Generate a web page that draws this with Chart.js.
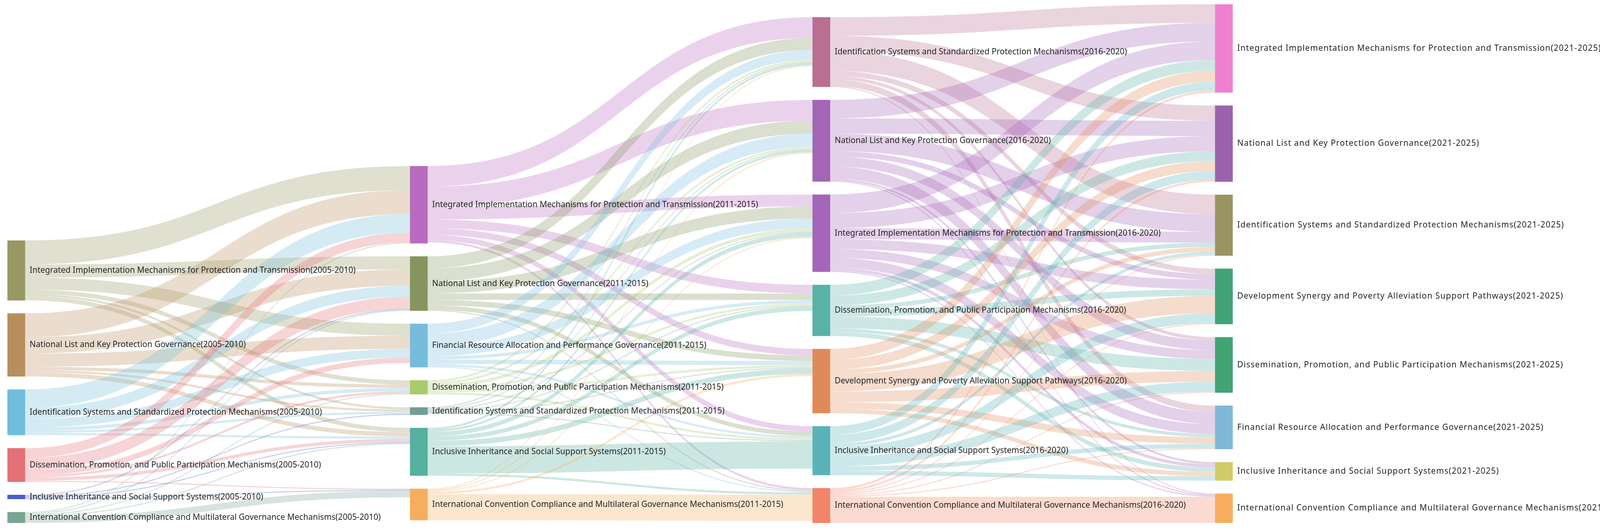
<!DOCTYPE html>
<html>
<head>
<meta charset="utf-8">
<script src="https://cdn.jsdelivr.net/npm/chart.js@4.4.1/dist/chart.umd.min.js"></script>
<style>
  html, body { margin: 0; padding: 0; background: #fff; overflow: hidden; }
  #wrap { width: 100vw; height: 100vh; }
</style>
</head>
<body>
<div id="wrap"><canvas id="chart"></canvas></div>
<script>
// ===== DATA =====
const periods = ["2005-2010", "2011-2015", "2016-2020", "2021-2025"];

const nodes2005 = [
  "Integrated Implementation Mechanisms for Protection and Transmission",
  "National List and Key Protection Governance",
  "Identification Systems and Standardized Protection Mechanisms",
  "Dissemination, Promotion, and Public Participation Mechanisms",
  "Inclusive Inheritance and Social Support Systems",
  "International Convention Compliance and Multilateral Governance Mechanisms"
];
const nodes2011 = [
  "Integrated Implementation Mechanisms for Protection and Transmission",
  "National List and Key Protection Governance",
  "Financial Resource Allocation and Performance Governance",
  "Dissemination, Promotion, and Public Participation Mechanisms",
  "Identification Systems and Standardized Protection Mechanisms",
  "Inclusive Inheritance and Social Support Systems",
  "International Convention Compliance and Multilateral Governance Mechanisms"
];
const nodes2016 = [
  "Identification Systems and Standardized Protection Mechanisms",
  "National List and Key Protection Governance",
  "Integrated Implementation Mechanisms for Protection and Transmission",
  "Dissemination, Promotion, and Public Participation Mechanisms",
  "Development Synergy and Poverty Alleviation Support Pathways",
  "Inclusive Inheritance and Social Support Systems",
  "International Convention Compliance and Multilateral Governance Mechanisms"
];
const nodes2021 = [
  "Integrated Implementation Mechanisms for Protection and Transmission",
  "National List and Key Protection Governance",
  "Identification Systems and Standardized Protection Mechanisms",
  "Development Synergy and Poverty Alleviation Support Pathways",
  "Dissemination, Promotion, and Public Participation Mechanisms",
  "Financial Resource Allocation and Performance Governance",
  "Inclusive Inheritance and Social Support Systems",
  "International Convention Compliance and Multilateral Governance Mechanisms"
];

// [source index, target index, value]
const flows1 = [
  [0,0,22],[0,1,12],[0,2,11],[0,3,4],[0,4,2],[0,5,4],
  [1,0,22],[1,1,15],[1,2,12],[1,3,3],[1,4,2],[1,5,4],
  [2,0,17],[2,1,10],[2,2,8],[2,3,3],[2,4,2],[2,5,2],
  [3,0,9],[3,1,11],[3,2,5],[3,3,2],[3,5,3],[3,6,1],
  [4,1,1],[4,4,1],[4,5,1],[4,6,1],
  [5,3,1],[5,5,1],[5,6,6],[5,0,1],[5,1,1]
];
const flows2 = [
  [0,0,19],[0,1,19],[0,2,11],[0,3,8],[0,4,6],[0,5,5],[0,6,2],
  [1,0,11],[1,1,12],[1,2,11],[1,3,6],[1,4,5],[1,5,4],[1,6,1],
  [2,0,9],[2,1,12],[2,2,9],[2,3,3],[2,4,4],[2,5,2],[2,6,1],
  [3,0,2],[3,1,2],[3,2,3],[3,3,2],[3,4,2],[3,5,2],
  [4,0,1],[4,1,1],[4,2,1],[4,3,1],[4,4,1],[4,5,1],
  [5,0,2],[5,1,2],[5,2,4],[5,3,4],[5,4,5],[5,5,25],[5,6,2],
  [6,0,1],[6,1,1],[6,2,1],[6,4,2],[6,6,24]
];
const flows3 = [
  [0,0,17],[0,1,14],[0,2,18],[0,3,5],[0,4,3],[0,5,6],[0,7,1],
  [1,0,17],[1,1,14],[1,2,16],[1,3,5],[1,4,9],[1,5,11],[1,6,2],[1,7,1],
  [2,0,17],[2,1,14],[2,2,10],[2,3,9],[2,4,8],[2,5,9],[2,6,3],[2,7,1],
  [3,0,10],[3,1,9],[3,2,4],[3,3,6],[3,4,11],[3,5,3],[3,6,4],
  [4,0,10],[4,1,9],[4,2,4],[4,3,16],[4,4,10],[4,5,6],[4,6,4],
  [5,0,8],[5,1,8],[5,2,3],[5,3,9],[5,4,9],[5,5,4],[5,6,4],
  [6,0,2],[6,1,2],[6,2,1],[6,3,1],[6,4,1],[6,5,1],[6,7,24]
];

const colors2005 = ["#979862", "#b88e5d", "#70bddc", "#e37177", "#4a5fc4", "#79a693"];
const colors2011 = ["#b96bbf", "#86955f", "#77bcdd", "#a9cb6c", "#729c98", "#56b09f", "#f6ad5d"];
const colors2016 = ["#b86f92", "#a365b6", "#a466b9", "#59b2a6", "#e08a58", "#5ab3b8", "#f28468"];
const colors2021 = ["#ef80cf", "#9c62ad", "#999462", "#40a478", "#41a474", "#80b8d7", "#d1cb69", "#f6ae5e"];

// ===== LAYOUT =====
const columns = [nodes2005, nodes2011, nodes2016, nodes2021];
const colColors = [colors2005, colors2011, colors2016, colors2021];
const stageFlows = [flows1, flows2, flows3];

const W = 4322, H = 1356;
const TOP = 11, BOTTOM = 1338, PAD = 33;
const LEFT = 20, RIGHT = 3330, NODE_W = 48;

function buildLayout() {
  const cols = columns.map((names, c) => names.map((name, i) => ({
    name, c, i, color: colColors[c][i], inSum: 0, outSum: 0, inLinks: [], outLinks: []
  })));
  const links = [];
  stageFlows.forEach((fl, s) => {
    fl.forEach(([a, b, v]) => {
      const l = { src: cols[s][a], tgt: cols[s + 1][b], value: v };
      l.src.outSum += v; l.tgt.inSum += v;
      l.src.outLinks.push(l); l.tgt.inLinks.push(l);
      links.push(l);
    });
  });
  cols.forEach(col => col.forEach(n => n.value = Math.max(n.inSum, n.outSum)));

  const ky = Math.min(...cols.map(col =>
    (BOTTOM - TOP - (col.length - 1) * PAD) / col.reduce((s, n) => s + n.value, 0)));
  cols.forEach(col => {
    let y = TOP;
    col.forEach(n => { n.y0 = y; n.h = n.value * ky; n.y1 = y + n.h; y = n.y1 + PAD; });
  });

  function resolve(col) {
    let y = TOP;
    col.forEach(n => { if (n.y0 < y) n.y0 = y; n.y1 = n.y0 + n.h; y = n.y1 + PAD; });
    y = BOTTOM;
    for (let k = col.length - 1; k >= 0; k--) {
      const n = col[k];
      if (n.y1 > y) { n.y1 = y; n.y0 = y - n.h; }
      y = n.y0 - PAD;
    }
  }
  const mid = n => (n.y0 + n.y1) / 2;
  for (let it = 0; it < 32; it++) {
    const alpha = Math.pow(0.99, it);
    for (let c = 1; c < cols.length; c++) {
      cols[c].forEach(n => {
        if (!n.inLinks.length) return;
        let s = 0, w = 0;
        n.inLinks.forEach(l => { s += mid(l.src) * l.value; w += l.value; });
        const d = (s / w - mid(n)) * alpha;
        n.y0 += d; n.y1 += d;
      });
      resolve(cols[c]);
    }
    for (let c = cols.length - 2; c >= 0; c--) {
      cols[c].forEach(n => {
        if (!n.outLinks.length) return;
        let s = 0, w = 0;
        n.outLinks.forEach(l => { s += mid(l.tgt) * l.value; w += l.value; });
        const d = (s / w - mid(n)) * alpha;
        n.y0 += d; n.y1 += d;
      });
      resolve(cols[c]);
    }
  }
  // link offsets
  cols.forEach(col => col.forEach(n => {
    let y = n.y0;
    n.outLinks.slice().sort((a, b) => a.tgt.y0 - b.tgt.y0).forEach(l => { l.w = l.value * ky; l.sy = y; y += l.w; });
    y = n.y0;
    n.inLinks.slice().sort((a, b) => a.src.y0 - b.src.y0).forEach(l => { l.ty = y; y += l.value * ky; });
  }));
  return { cols, links };
}
const layout = buildLayout();

function hexA(hex, a) {
  const v = parseInt(hex.slice(1), 16);
  return `rgba(${v >> 16},${(v >> 8) & 255},${v & 255},${a})`;
}

const sankeyPlugin = {
  id: 'sankey',
  afterDatasetsDraw(chart) {
    const ctx = chart.ctx, xs = chart.scales.x, ys = chart.scales.y;
    const k = chart.width / W;
    const colX = c => LEFT + c * (RIGHT - NODE_W - LEFT) / (columns.length - 1);
    ctx.save();
    // links
    layout.links.forEach(l => {
      const x0 = xs.getPixelForValue(colX(l.src.c) + NODE_W);
      const x1 = xs.getPixelForValue(colX(l.tgt.c));
      const xm = (x0 + x1) / 2;
      const a0 = ys.getPixelForValue(l.sy), a1 = ys.getPixelForValue(l.sy + l.w);
      const b0 = ys.getPixelForValue(l.ty), b1 = ys.getPixelForValue(l.ty + l.w);
      ctx.beginPath();
      ctx.moveTo(x0, a0);
      ctx.bezierCurveTo(xm, a0, xm, b0, x1, b0);
      ctx.lineTo(x1, b1);
      ctx.bezierCurveTo(xm, b1, xm, a1, x0, a1);
      ctx.closePath();
      ctx.fillStyle = hexA(l.src.color, 0.3);
      ctx.fill();
    });
    // nodes + labels
    ctx.font = Math.round(22 * k) + 'px "Noto Sans", sans-serif';
    ctx.textBaseline = 'middle';
    layout.cols.forEach(col => col.forEach(n => {
      const x0 = xs.getPixelForValue(colX(n.c));
      const x1 = xs.getPixelForValue(colX(n.c) + NODE_W);
      const y0 = ys.getPixelForValue(n.y0), y1 = ys.getPixelForValue(n.y1);
      ctx.fillStyle = n.color;
      ctx.fillRect(x0, y0, x1 - x0, Math.max(y1 - y0, 4 * k));
      ctx.fillStyle = '#222';
      ctx.letterSpacing = (n.c === columns.length - 1 ? 1.3 * k : 0) + 'px';
      ctx.fillText(n.name + '(' + periods[n.c] + ')', x1 + 12 * k, (y0 + y1) / 2);
    }));
    ctx.restore();
  }
};

const chart = new Chart(document.getElementById("chart"), {
  type: 'scatter',
  data: { datasets: [{ data: [], pointRadius: 0 }] },
  options: {
    responsive: true,
    maintainAspectRatio: false,
    animation: false,
    layout: { padding: 0 },
    plugins: { legend: { display: false }, tooltip: { enabled: false } },
    scales: {
      x: { type: 'linear', min: 0, max: W, display: false },
      y: { type: 'linear', min: 0, max: H, reverse: true, display: false }
    }
  },
  plugins: [sankeyPlugin]
});
</script>
</body>
</html>
